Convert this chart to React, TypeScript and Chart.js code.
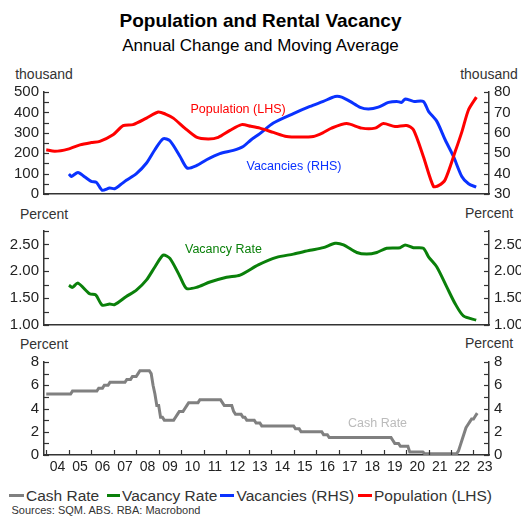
import React, { useEffect, useRef } from "react";
import { Chart, registerables } from "chart.js";

Chart.register(...registerables);

// ---------------- DATA ----------------
const X_MIN = 2003.9;
const X_MAX = 2023.69;
const tickYears = [2004, 2005, 2006, 2007, 2008, 2009, 2010, 2011, 2012, 2013, 2014, 2015, 2016, 2017, 2018, 2019, 2020, 2021, 2022, 2023];

// Population, annual change (thousand, LHS)
const popYears = [2004.0, 2004.38, 2004.97, 2005.5, 2006.0, 2006.38, 2006.97, 2007.42, 2007.86, 2008.46, 2008.98, 2009.3, 2009.65, 2010.16, 2010.68, 2011.2, 2011.65, 2012.17, 2012.69, 2013.1, 2013.5, 2014.1, 2014.69, 2015.28, 2015.88, 2016.3, 2016.69, 2017.36, 2018.03, 2018.62, 2018.99, 2019.51, 2020.03, 2020.33, 2020.77, 2021.22, 2021.44, 2021.74, 2022.19, 2022.49, 2022.78, 2023.13];
const popValues = [217, 209, 220, 241, 252, 258, 290, 335, 340, 372, 402, 392, 372, 323, 279, 270, 278, 312, 340, 332, 323, 302, 282, 279, 282, 300, 323, 345, 323, 323, 345, 331, 336, 315, 184, 37, 41, 70, 209, 307, 413, 475];

// Rental vacancies (thousand, RHS)
const vacYears = [2005.01, 2005.12, 2005.41, 2005.7, 2006.0, 2006.23, 2006.49, 2006.82, 2007.04, 2007.3, 2007.56, 2008.01, 2008.46, 2008.83, 2009.2, 2009.5, 2009.95, 2010.27, 2010.68, 2011.13, 2011.72, 2012.32, 2012.76, 2013.1, 2013.5, 2014.1, 2014.99, 2015.73, 2016.32, 2016.85, 2017.14, 2017.51, 2017.96, 2018.33, 2018.77, 2019.22, 2019.59, 2019.81, 2019.96, 2020.33, 2020.77, 2021.0, 2021.37, 2021.74, 2022.11, 2022.48, 2022.78, 2023.12];
const vacValues = [39.8, 38.6, 40.6, 38.5, 36.2, 35.7, 31.8, 32.9, 32.6, 34.5, 36.7, 40.0, 45.2, 51.7, 57.1, 56.1, 48.4, 42.7, 43.9, 46.8, 49.8, 51.4, 53.3, 56.5, 59.6, 64.8, 69.4, 72.9, 75.4, 77.8, 77.5, 75.4, 72.5, 71.7, 72.6, 74.9, 75.4, 74.9, 76.6, 75.4, 75.4, 70.5, 65.6, 56.6, 48.4, 38.6, 35.0, 33.4];

// Vacancy rate (percent)
const rateYears = [2005.01, 2005.16, 2005.41, 2005.93, 2006.2, 2006.49, 2006.82, 2007.04, 2007.56, 2008.01, 2008.46, 2008.83, 2009.2, 2009.5, 2009.95, 2010.24, 2010.68, 2011.28, 2012.02, 2012.62, 2013.43, 2014.24, 2014.99, 2015.73, 2016.32, 2016.85, 2017.22, 2017.81, 2018.25, 2018.7, 2019.14, 2019.74, 2019.96, 2020.33, 2020.77, 2021.0, 2021.37, 2021.81, 2022.18, 2022.55, 2023.12];
const rateValues = [1.74, 1.70, 1.78, 1.58, 1.56, 1.37, 1.39, 1.38, 1.53, 1.65, 1.84, 2.08, 2.30, 2.24, 1.90, 1.68, 1.70, 1.80, 1.89, 1.93, 2.12, 2.26, 2.32, 2.39, 2.44, 2.52, 2.49, 2.35, 2.32, 2.35, 2.43, 2.44, 2.49, 2.44, 2.43, 2.27, 2.08, 1.71, 1.40, 1.17, 1.09];

// Cash rate (percent): month of change and new level
const cashMonths = ["2004-01", "2005-03", "2006-05", "2006-08", "2006-11", "2007-08", "2007-11", "2008-02", "2008-03", "2008-09", "2008-10", "2008-11", "2008-12", "2009-02", "2009-04", "2009-10", "2009-11", "2009-12", "2010-03", "2010-04", "2010-05", "2010-11", "2011-11", "2011-12", "2012-05", "2012-06", "2012-10", "2012-12", "2013-05", "2013-08", "2015-02", "2015-05", "2016-05", "2016-08", "2019-06", "2019-07", "2019-10", "2020-03", "2020-11", "2022-05", "2022-06", "2022-07", "2022-08", "2022-09", "2022-10", "2022-11", "2022-12", "2023-02", "2023-03"];
const cashValues = [5.25, 5.5, 5.75, 6.0, 6.25, 6.5, 6.75, 7.0, 7.25, 7.0, 6.0, 5.25, 4.25, 3.25, 3.0, 3.25, 3.5, 3.75, 4.0, 4.25, 4.5, 4.75, 4.5, 4.25, 3.75, 3.5, 3.25, 3.0, 2.75, 2.5, 2.25, 2.0, 1.75, 1.5, 1.25, 1.0, 0.75, 0.25, 0.1, 0.35, 0.85, 1.35, 1.85, 2.35, 2.6, 2.85, 3.1, 3.35, 3.6];

const popTicksMajor = [0, 100, 200, 300, 400, 500];
const popTicksMinor = [0, 50, 100, 150, 200, 250, 300, 350, 400, 450, 500];
const vacTicksMajor = [30, 40, 50, 60, 70, 80];
const vacTicksMinor = [30, 35, 40, 45, 50, 55, 60, 65, 70, 75, 80];
const rateTicksMajor = [1.0, 1.5, 2.0, 2.5];
const rateTicksMinor = [1.0, 1.25, 1.5, 1.75, 2.0, 2.25, 2.5, 2.75];
const cashTicksMajor = [0, 2, 4, 6, 8];
const cashTicksMinor = [0, 1, 2, 3, 4, 5, 6, 7, 8];

// ---------------- STYLE ----------------
const FONT = "'Liberation Sans', Arial, Helvetica, sans-serif";
const RED = "#ff0000";
const BLUE = "#0a32ff";
const GREEN = "#0a800a";
const GREY = "#808080";
const AXIS = "#333333";
const W = 521;
const LEFT_W = 44;
const RIGHT_W = 32;

const zip = (xs: number[], ys: number[]) => xs.map((x, i) => ({ x, y: ys[i] }));
const monthToYear = (s: string) => {
  const [y, m] = s.split("-").map(Number);
  return y + (m - 1) / 12;
};
const cashPoints = () => {
  const pts: { x: number; y: number }[] = [];
  cashMonths.forEach((m, i) => {
    const x = monthToYear(m);
    if (i > 0) pts.push({ x: x - 1 / 12, y: cashValues[i - 1] });
    pts.push({ x, y: cashValues[i] });
  });
  return pts;
};

const innerTicks = {
  id: "innerTicks",
  afterDraw(chart: any, _args: any, opts: any) {
    const { ctx, chartArea } = chart;
    ctx.save();
    ctx.strokeStyle = AXIS;
    ctx.lineWidth = 1.2;
    for (const spec of opts.specs || []) {
      const s = chart.scales[spec.scale];
      for (const v of spec.values) {
        const p = Math.round(s.getPixelForValue(v)) + 0.5;
        ctx.beginPath();
        if (spec.side === "left") {
          ctx.moveTo(chartArea.left, p);
          ctx.lineTo(chartArea.left + 5, p);
        } else if (spec.side === "right") {
          ctx.moveTo(chartArea.right, p);
          ctx.lineTo(chartArea.right - 5, p);
        } else {
          ctx.moveTo(p, chartArea.bottom);
          ctx.lineTo(p, chartArea.bottom - 5);
        }
        ctx.stroke();
      }
    }
    ctx.restore();
  },
};

const yAxis = (position: "left" | "right", min: number, max: number, major: number[], fmt: (v: number) => string) => ({
  type: "linear",
  position,
  min,
  max,
  afterBuildTicks: (s: any) => {
    s.ticks = major.map((v) => ({ value: v }));
  },
  afterFit: (s: any) => {
    s.width = position === "left" ? LEFT_W : RIGHT_W;
  },
  grid: { display: false, drawTicks: false },
  border: { display: true, color: AXIS, width: 1.5 },
  ticks: {
    autoSkip: false,
    padding: 5,
    color: "#222",
    font: { family: FONT, size: 15 },
    callback: (v: any) => fmt(Number(v)),
  },
});

const hiddenX = {
  type: "linear",
  min: X_MIN,
  max: X_MAX,
  afterFit: (s: any) => {
    s.height = 0;
  },
  grid: { display: false, drawTicks: false },
  border: { display: true, color: AXIS, width: 1.5 },
  ticks: { display: false },
};

function useChart(ref: React.RefObject<HTMLCanvasElement | null>, makeConfig: () => any) {
  useEffect(() => {
    if (!ref.current) return;
    const chart = new Chart(ref.current, makeConfig());
    return () => chart.destroy();
  }, []);
}

const lineDs = (label: string, data: any[], color: string, yAxisID: string) => ({
  label,
  data,
  borderColor: color,
  backgroundColor: color,
  borderWidth: 3,
  pointRadius: 0,
  tension: 0.25,
  yAxisID,
  xAxisID: "x",
});

const basePlugins = { legend: { display: false }, tooltip: { enabled: false }, title: { display: false } };

const baseOptions = (padding: any) => ({
  responsive: false,
  animation: false,
  devicePixelRatio: 1,
  layout: { padding },
});

function Label(props: { text: string; left?: number; cx?: number; cy: number; size: number; color: string; bold?: boolean }) {
  const h = Math.round(props.size * 1.3);
  const style: React.CSSProperties = {
    position: "absolute",
    top: props.cy - h / 2,
    height: h,
    lineHeight: h + "px",
    fontSize: props.size,
    fontFamily: FONT,
    color: props.color,
    fontWeight: props.bold ? "bold" : "normal",
    whiteSpace: "nowrap",
  };
  if (props.cx !== undefined) {
    style.left = props.cx - 150;
    style.width = 300;
    style.textAlign = "center";
  } else {
    style.left = props.left;
  }
  return <div style={style}>{props.text}</div>;
}

function LegendItem(props: { color: string; text: string; lineLeft: number; lineWidth: number; textLeft: number }) {
  return (
    <>
      <div style={{ position: "absolute", left: props.lineLeft, top: 494, width: props.lineWidth, height: 3, background: props.color }} />
      <Label text={props.text} left={props.textLeft} cy={495.5} size={15.5} color="#333" />
    </>
  );
}

export default function App() {
  const c1 = useRef<HTMLCanvasElement>(null);
  const c2 = useRef<HTMLCanvasElement>(null);
  const c3 = useRef<HTMLCanvasElement>(null);

  useChart(c1, () => ({
    type: "line",
    data: {
      datasets: [
        lineDs("Population (LHS)", zip(popYears, popValues), RED, "yL"),
        lineDs("Vacancies (RHS)", zip(vacYears, vacValues), BLUE, "yR"),
      ],
    },
    options: {
      ...baseOptions({ top: 32, bottom: 16, left: 0, right: 0 }),
      scales: {
        x: hiddenX,
        yL: yAxis("left", 0, 500, popTicksMajor, (v) => String(v)),
        yR: yAxis("right", 30, 80, vacTicksMajor, (v) => String(v)),
      },
      plugins: {
        ...basePlugins,
        innerTicks: {
          specs: [
            { scale: "yL", side: "left", values: popTicksMinor },
            { scale: "yR", side: "right", values: vacTicksMinor },
          ],
        },
      },
    },
    plugins: [innerTicks],
  }));

  useChart(c2, () => ({
    type: "line",
    data: {
      datasets: [lineDs("Vacancy Rate", zip(rateYears, rateValues), GREEN, "yL")],
    },
    options: {
      ...baseOptions({ top: 21, bottom: 15, left: 0, right: 0 }),
      scales: {
        x: hiddenX,
        yL: yAxis("left", 1, 2.75, rateTicksMajor, (v) => v.toFixed(2)),
        yR: yAxis("right", 1, 2.75, rateTicksMajor, (v) => v.toFixed(2)),
      },
      plugins: {
        ...basePlugins,
        innerTicks: {
          specs: [
            { scale: "yL", side: "left", values: rateTicksMinor },
            { scale: "yR", side: "right", values: rateTicksMinor },
          ],
        },
      },
    },
    plugins: [innerTicks],
  }));

  useChart(c3, () => ({
    type: "line",
    data: {
      datasets: [{ ...lineDs("Cash Rate", cashPoints(), GREY, "yL"), tension: 0 }],
    },
    options: {
      ...baseOptions({ top: 22, bottom: 0, left: 0, right: 0 }),
      scales: {
        x: {
          type: "linear",
          min: X_MIN,
          max: X_MAX,
          afterBuildTicks: (s: any) => {
            s.ticks = tickYears.map((y) => ({ value: y + 0.5 }));
          },
          afterFit: (s: any) => {
            s.height = 25;
          },
          grid: { display: false, drawTicks: false },
          border: { display: true, color: AXIS, width: 1.5 },
          ticks: {
            autoSkip: false,
            maxRotation: 0,
            padding: 4,
            color: "#222",
            font: { family: FONT, size: 14 },
            callback: (v: any) => String(Math.floor(Number(v))).slice(2),
          },
        },
        yL: yAxis("left", 0, 8, cashTicksMajor, (v) => String(v)),
        yR: yAxis("right", 0, 8, cashTicksMajor, (v) => String(v)),
      },
      plugins: {
        ...basePlugins,
        innerTicks: {
          specs: [
            { scale: "yL", side: "left", values: cashTicksMinor },
            { scale: "yR", side: "right", values: cashTicksMinor },
            { scale: "x", side: "bottom", values: tickYears },
          ],
        },
      },
    },
    plugins: [innerTicks],
  }));

  return (
    <div style={{ position: "absolute", left: 0, top: 0, width: W, height: 522, background: "#fff", overflow: "hidden" }}>
      <Label text="Population and Rental Vacancy" cx={260.5} cy={20} size={19} color="#000" bold />
      <Label text="Annual Change and Moving Average" cx={260.5} cy={46} size={17} color="#000" />

      <Label text="thousand" cx={44} cy={74} size={14} color="#333" />
      <Label text="thousand" cx={489} cy={74} size={14} color="#333" />
      <Label text="Percent" cx={44} cy={214} size={14} color="#333" />
      <Label text="Percent" cx={489} cy={213} size={14} color="#333" />
      <Label text="Percent" cx={44} cy={344} size={14} color="#333" />
      <Label text="Percent" cx={489} cy={343} size={14} color="#333" />

      <canvas ref={c1} width={W} height={150} style={{ position: "absolute", left: 0, top: 60 }} />
      <canvas ref={c2} width={W} height={130} style={{ position: "absolute", left: 0, top: 210 }} />
      <canvas ref={c3} width={W} height={140} style={{ position: "absolute", left: 0, top: 340 }} />

      <Label text="Population (LHS)" left={190.5} cy={108.5} size={12.5} color={RED} />
      <Label text="Vacancies (RHS)" left={246.5} cy={166} size={12.5} color={BLUE} />
      <Label text="Vacancy Rate" left={185} cy={249} size={12.5} color={GREEN} />
      <Label text="Cash Rate" left={348} cy={422.5} size={12.5} color="#bbbbbb" />

      <LegendItem color={GREY} text="Cash Rate" lineLeft={9} lineWidth={15} textLeft={26} />
      <LegendItem color={GREEN} text="Vacancy Rate" lineLeft={107} lineWidth={13} textLeft={122} />
      <LegendItem color={BLUE} text="Vacancies (RHS)" lineLeft={220} lineWidth={14} textLeft={236.5} />
      <LegendItem color={RED} text="Population (LHS)" lineLeft={358} lineWidth={14} textLeft={374} />

      <Label text="Sources: SQM. ABS. RBA: Macrobond" left={11.5} cy={510} size={11} color="#333" />
    </div>
  );
}
